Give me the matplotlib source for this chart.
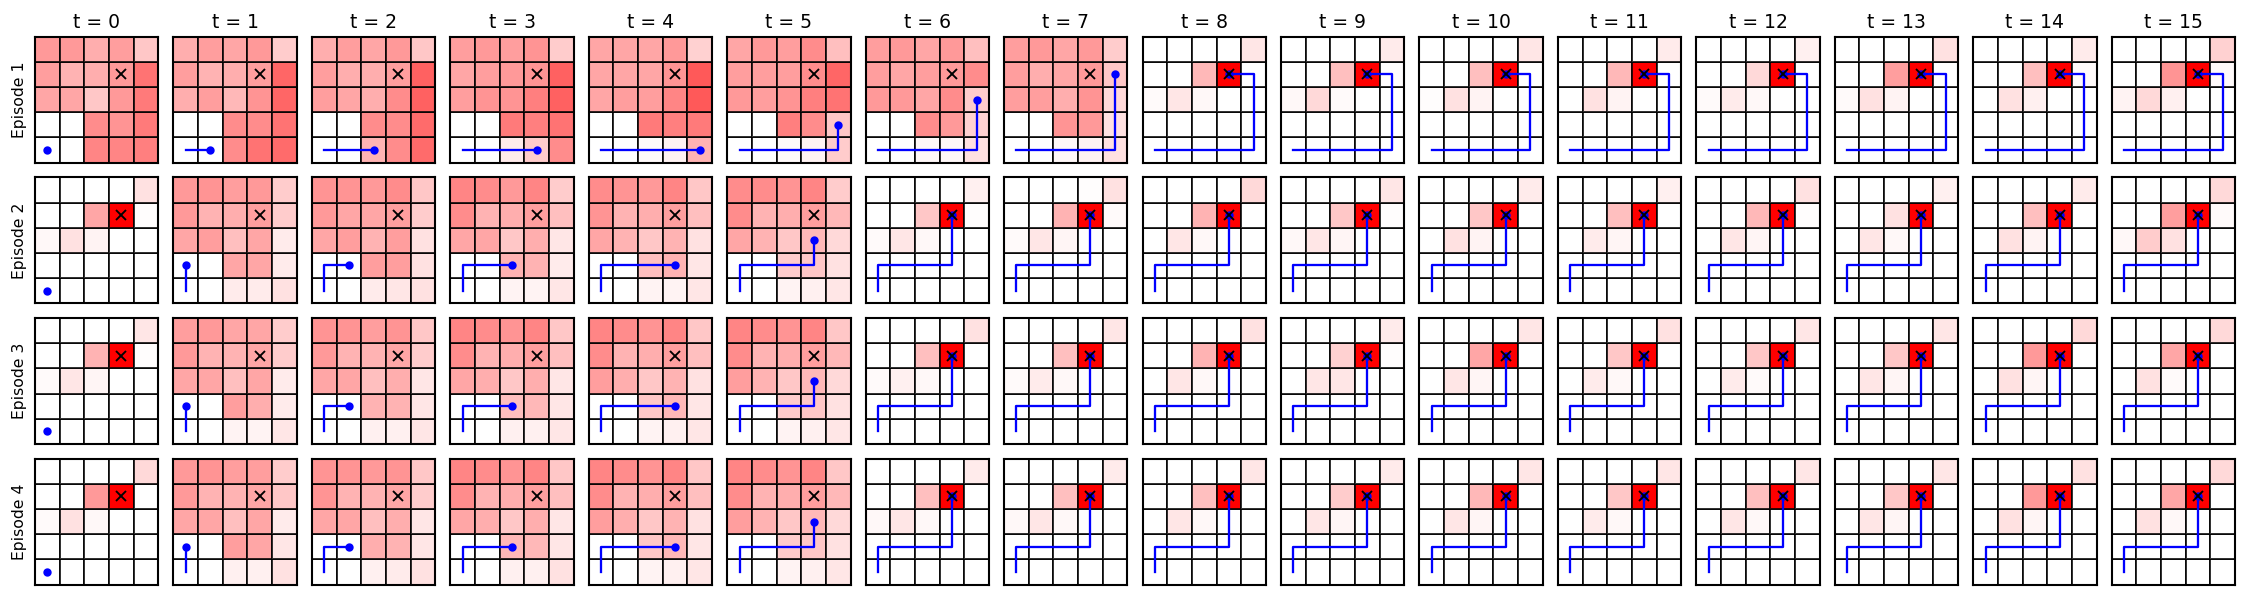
"""Belief maps over a 5x5 grid, 4 episodes x 16 steps, with the agent's path."""

import matplotlib

matplotlib.use("Agg")
import matplotlib.pyplot as plt  # noqa: E402
import numpy as np  # noqa: E402
from matplotlib.colors import LinearSegmentedColormap  # noqa: E402

STEPS = list(range(16))
EPISODES = ["Episode 1", "Episode 2", "Episode 3", "Episode 4"]
GOAL = (3, 3)

# agent positions (column, row from bottom) per step until the goal
PATH1_X = [0, 1, 2, 3, 4, 4, 4, 4, 3]
PATH1_Y = [0, 0, 0, 0, 0, 1, 2, 3, 3]
PATH2_X = [0, 0, 1, 2, 3, 3, 3]
PATH2_Y = [0, 1, 1, 1, 1, 2, 3]

# belief (percent), rows listed top to bottom, one panel per line
Z = [0, 0, 0, 0, 0]
EP1 = [
    [[40, 40, 32, 38, 22], [38, 30, 32, 40, 55], [35, 35, 22, 40, 52], [0, 0, 45, 42, 52], [0, 0, 48, 48, 50]],
    [[32, 38, 35, 40, 20], [38, 30, 32, 38, 60], [32, 38, 28, 42, 60], [0, 0, 45, 45, 55], [0, 0, 45, 55, 58]],
    [[32, 38, 35, 40, 22], [38, 32, 32, 38, 62], [38, 35, 32, 45, 62], [0, 0, 45, 45, 58], [0, 0, 30, 45, 58]],
    [[38, 40, 38, 42, 20], [35, 38, 40, 42, 62], [38, 42, 42, 50, 62], [0, 0, 52, 50, 55], [0, 0, 8, 20, 45]],
    [[35, 35, 35, 40, 18], [35, 35, 35, 42, 65], [35, 38, 38, 48, 65], [0, 0, 52, 50, 52], [0, 0, 2, 5, 30]],
    [[35, 40, 38, 45, 25], [38, 38, 38, 45, 60], [40, 38, 42, 50, 55], [0, 0, 50, 45, 22], [0, 0, 2, 5, 20]],
    [[38, 40, 35, 40, 25], [38, 35, 38, 40, 45], [40, 40, 35, 45, 20], [0, 0, 45, 40, 18], [0, 0, 3, 3, 12]],
    [[38, 40, 35, 40, 20], [38, 32, 35, 40, 22], [38, 38, 32, 42, 15], [0, 0, 42, 40, 12], [0, 0, 3, 5, 12]],
    [[0, 0, 0, 0, 10], [0, 0, 28, 100, 0], [2, 10, 3, 0, 0], Z, Z],
    [[0, 0, 0, 0, 8], [0, 0, 25, 100, 1], [3, 15, 2, 0, 0], Z, Z],
    [[0, 0, 0, 0, 10], [0, 0, 25, 100, 0], [1, 12, 5, 0, 0], Z, Z],
    [[0, 0, 0, 0, 8], [0, 0, 28, 100, 0], [0, 12, 5, 0, 0], Z, Z],
    [[0, 0, 0, 0, 6], [0, 0, 15, 100, 0], [2, 8, 3, 0, 0], Z, Z],
    [[0, 0, 0, 0, 12], [0, 0, 38, 100, 0], [2, 12, 5, 0, 0], Z, Z],
    [[0, 0, 0, 0, 8], [0, 0, 25, 100, 2], [0, 12, 6, 0, 0], Z, Z],
    [[0, 0, 0, 0, 18], [0, 0, 42, 100, 2], [5, 15, 6, 0, 0], Z, Z],
]
EP2 = [
    [[0, 0, 0, 0, 12], [0, 0, 35, 100, 1], [3, 12, 5, 0, 0], Z, Z],
    [[40, 42, 38, 40, 20], [40, 30, 32, 38, 20], [35, 38, 25, 35, 8], [0, 0, 35, 35, 8], [0, 0, 8, 8, 12]],
    [[42, 42, 40, 45, 22], [40, 35, 35, 38, 20], [35, 38, 30, 38, 12], [0, 0, 38, 38, 12], [0, 0, 8, 10, 12]],
    [[48, 45, 40, 48, 20], [45, 30, 32, 38, 25], [35, 35, 22, 32, 10], [0, 0, 30, 30, 8], [0, 0, 5, 5, 10]],
    [[45, 42, 40, 48, 22], [42, 30, 32, 38, 25], [35, 30, 22, 30, 12], [0, 0, 25, 30, 10], [0, 0, 5, 5, 10]],
    [[45, 45, 42, 48, 20], [45, 30, 32, 38, 28], [35, 30, 22, 28, 15], [0, 0, 20, 22, 12], [0, 0, 5, 6, 10]],
    [[0, 0, 0, 0, 6], [0, 0, 22, 100, 1], [2, 10, 3, 0, 0], Z, Z],
    [[0, 0, 0, 1, 12], [0, 0, 30, 100, 2], [2, 10, 4, 0, 0], Z, Z],
    [[0, 0, 0, 0, 15], [0, 0, 30, 100, 0], [0, 10, 3, 0, 0], Z, Z],
    [[0, 0, 0, 0, 10], [0, 0, 22, 100, 1], [3, 10, 4, 0, 0], Z, Z],
    [[0, 0, 0, 0, 8], [0, 0, 22, 100, 0], [0, 12, 5, 0, 0], Z, Z],
    [[0, 0, 0, 0, 6], [0, 0, 25, 100, 0], [0, 8, 4, 0, 0], Z, Z],
    [[0, 0, 0, 0, 12], [0, 0, 28, 100, 1], [0, 10, 4, 0, 0], Z, Z],
    [[0, 0, 0, 0, 6], [0, 0, 12, 100, 0], [0, 10, 3, 0, 0], Z, Z],
    [[0, 0, 0, 0, 8], [0, 0, 25, 100, 0], [0, 12, 5, 0, 0], Z, Z],
    [[0, 0, 0, 0, 15], [0, 0, 38, 100, 2], [3, 20, 12, 0, 0], Z, Z],
]
EP3 = [
    [[0, 0, 0, 0, 10], [0, 0, 30, 100, 1], [2, 10, 4, 0, 0], Z, Z],
    [[38, 40, 35, 35, 20], [40, 30, 30, 35, 20], [35, 35, 25, 35, 8], [0, 0, 38, 32, 8], [0, 0, 5, 5, 10]],
    [[42, 42, 38, 42, 22], [40, 30, 30, 35, 20], [35, 35, 25, 32, 10], [0, 0, 30, 30, 10], [0, 0, 6, 6, 10]],
    [[48, 45, 42, 48, 22], [45, 30, 32, 38, 25], [35, 32, 22, 32, 10], [0, 0, 25, 28, 10], [0, 0, 6, 6, 10]],
    [[48, 45, 42, 48, 22], [45, 30, 32, 38, 25], [38, 32, 22, 30, 12], [0, 0, 22, 28, 10], [0, 0, 5, 6, 10]],
    [[48, 45, 42, 48, 22], [45, 30, 32, 38, 28], [38, 30, 22, 28, 15], [0, 0, 20, 22, 12], [0, 0, 5, 6, 10]],
    [[0, 0, 0, 0, 12], [0, 0, 25, 100, 0], [2, 6, 3, 0, 0], Z, Z],
    [[0, 0, 0, 0, 10], [0, 0, 25, 100, 0], [2, 8, 3, 0, 0], Z, Z],
    [[0, 0, 0, 0, 12], [0, 0, 30, 100, 0], [0, 10, 3, 0, 0], Z, Z],
    [[0, 0, 0, 0, 8], [0, 0, 18, 100, 1], [0, 10, 10, 0, 0], Z, Z],
    [[0, 0, 0, 0, 10], [0, 0, 35, 100, 0], [0, 10, 4, 0, 0], Z, Z],
    [[0, 0, 0, 0, 12], [0, 0, 22, 100, 0], [0, 8, 3, 0, 0], Z, Z],
    [[0, 0, 0, 0, 10], [0, 0, 22, 100, 0], [0, 8, 2, 0, 0], Z, Z],
    [[0, 0, 0, 0, 10], [0, 0, 22, 100, 0], [0, 10, 4, 0, 0], Z, Z],
    [[0, 0, 0, 0, 15], [0, 0, 40, 100, 0], [0, 12, 4, 0, 0], Z, Z],
    [[0, 0, 0, 0, 15], [0, 0, 35, 100, 0], [0, 12, 2, 0, 0], Z, Z],
]
EP4 = [
    [[0, 0, 0, 0, 15], [0, 0, 40, 100, 0], [2, 12, 3, 0, 0], Z, Z],
    [[40, 42, 38, 38, 20], [40, 30, 30, 35, 22], [35, 35, 25, 35, 8], [0, 0, 38, 35, 10], [0, 0, 6, 6, 12]],
    [[42, 42, 40, 42, 22], [42, 30, 30, 35, 20], [35, 35, 25, 32, 10], [0, 0, 32, 30, 10], [0, 0, 6, 8, 12]],
    [[48, 45, 42, 48, 22], [45, 30, 32, 38, 25], [35, 32, 22, 32, 10], [0, 0, 28, 28, 10], [0, 0, 6, 6, 12]],
    [[48, 45, 42, 48, 22], [45, 30, 32, 38, 25], [38, 32, 22, 30, 12], [0, 0, 22, 28, 10], [0, 0, 5, 6, 10]],
    [[48, 45, 42, 48, 22], [45, 30, 32, 38, 28], [38, 30, 22, 28, 15], [0, 0, 20, 22, 12], [0, 0, 5, 6, 10]],
    [[0, 0, 0, 0, 8], [0, 0, 25, 100, 0], [3, 10, 3, 0, 0], Z, Z],
    [[0, 0, 0, 0, 8], [0, 0, 25, 100, 0], [3, 10, 3, 0, 0], Z, Z],
    [[0, 0, 0, 0, 10], [0, 0, 25, 100, 0], [0, 10, 3, 0, 0], Z, Z],
    [[0, 0, 0, 0, 8], [0, 0, 20, 100, 0], [0, 10, 4, 0, 0], Z, Z],
    [[0, 0, 0, 0, 10], [0, 0, 28, 100, 0], [0, 10, 4, 0, 0], Z, Z],
    [[0, 0, 0, 0, 10], [0, 0, 22, 100, 0], [0, 8, 3, 0, 0], Z, Z],
    [[0, 0, 0, 0, 10], [0, 0, 25, 100, 0], [0, 10, 3, 0, 0], Z, Z],
    [[0, 0, 0, 0, 10], [0, 0, 22, 100, 0], [0, 10, 4, 0, 0], Z, Z],
    [[0, 0, 0, 0, 12], [0, 0, 40, 100, 0], [0, 12, 4, 0, 0], Z, Z],
    [[0, 0, 0, 0, 15], [0, 0, 35, 100, 0], [0, 12, 3, 0, 0], Z, Z],
]

BELIEFS = [EP1, EP2, EP3, EP4]
PATHS = [(PATH1_X, PATH1_Y), (PATH2_X, PATH2_Y), (PATH2_X, PATH2_Y), (PATH2_X, PATH2_Y)]

cmap = LinearSegmentedColormap.from_list("white_red", ["white", "red"])

fig, axes = plt.subplots(4, 16, figsize=(15, 4), dpi=150)
fig.subplots_adjust(left=35 / 2250, right=2235 / 2250, top=1 - 36.7 / 600,
                    bottom=1 - 584.5 / 600, wspace=0.122, hspace=0.116)

for r, (ep, (px, py)) in enumerate(zip(BELIEFS, PATHS)):
    for c, t in enumerate(STEPS):
        ax = axes[r, c]
        grid = np.array(ep[t], dtype=float)[::-1] / 100.0  # bottom row first
        ax.pcolormesh(np.arange(6), np.arange(6), grid, cmap=cmap, vmin=0, vmax=1,
                      edgecolors=(0, 0, 0, 0.8), linewidth=0.8)
        n = min(t, len(px) - 1) + 1
        xs = np.array(px[:n]) + 0.5
        ys = np.array(py[:n]) + 0.5
        ax.plot(xs, ys, "-", color="blue", lw=1.1, zorder=3)
        ax.plot(xs[-1], ys[-1], "o", color="blue", ms=3, zorder=4)
        ax.plot(GOAL[0] + 0.5, GOAL[1] + 0.5, "x", color="black", ms=5, mew=0.9, zorder=5)
        ax.set_xlim(0, 5)
        ax.set_ylim(0, 5)
        ax.set_xticks([])
        ax.set_yticks([])
        for s in ax.spines.values():
            s.set_linewidth(1.0)
        if r == 0:
            ax.set_title(f"t = {t}", fontsize=9, pad=4)
        if c == 0:
            ax.set_ylabel(EPISODES[r], fontsize=7.5)

fig.savefig("out.png", dpi=150)
